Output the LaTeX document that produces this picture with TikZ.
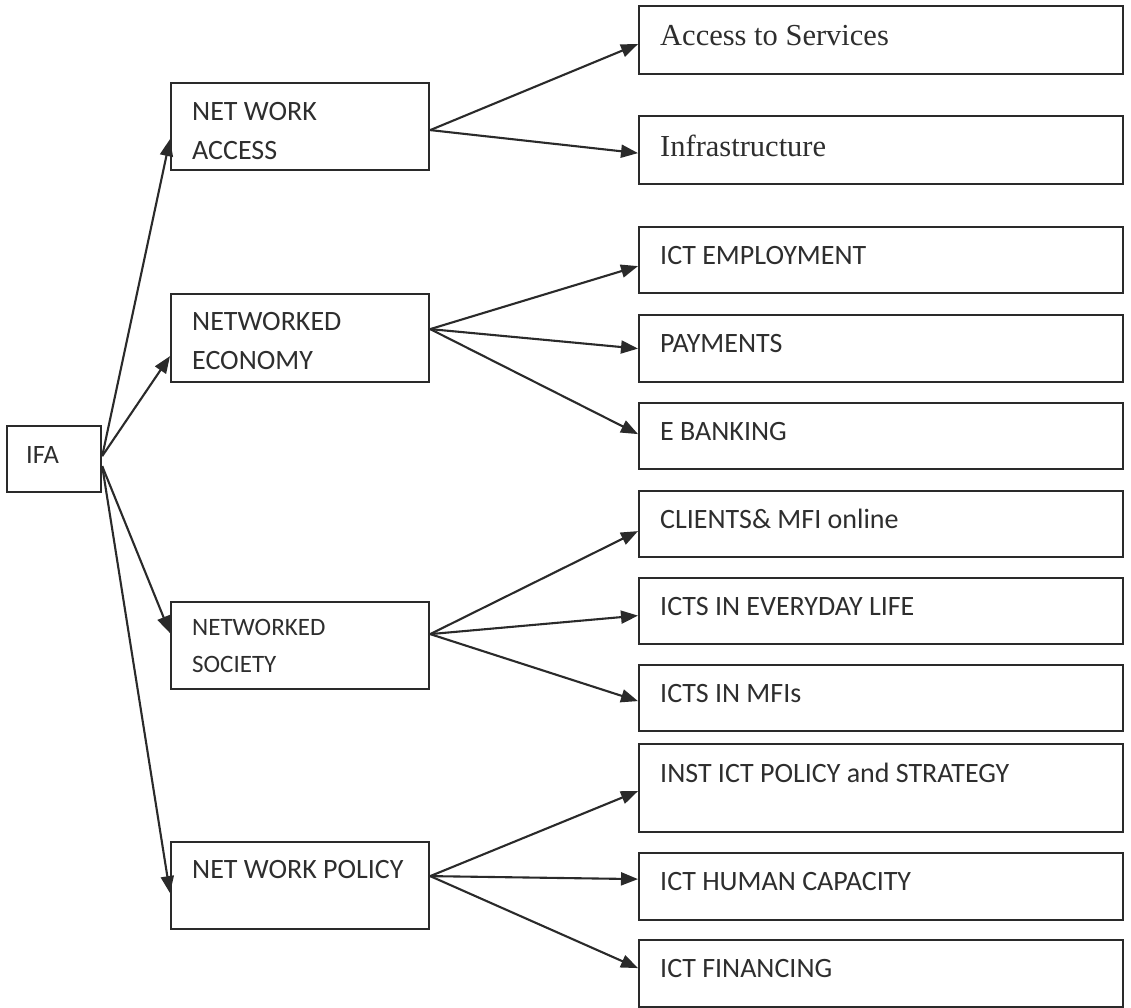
\documentclass[tikz,border=0pt]{standalone}
\usepackage{fontspec}
\setmainfont{Carlito}
\newfontfamily\serifface{Liberation Serif}
\usetikzlibrary{arrows.meta,calc}
\definecolor{ink}{HTML}{2A2A2A}
\definecolor{txtink}{HTML}{2E2E2E}
\begin{document}
\begin{tikzpicture}[x=1pt,y=-1pt,
  box/.style={draw=ink,line width=2.2pt,rectangle,inner sep=0pt,anchor=north west},
  wide/.style={box,minimum width=484pt},
  mid/.style={box,minimum width=258pt},
  txt/.style={anchor=base west,inner sep=0pt,text=txtink,font=\fontsize{28}{39}\selectfont},
  smalltxt/.style={txt,font=\fontsize{25}{37}\selectfont},
  sertxt/.style={txt,font=\serifface\fontsize{30.5}{36}\selectfont},
  conn/.style={draw=ink,line width=2.1pt,-{Triangle[length=17pt,width=13pt]}}]
\useasboundingbox (0,0) rectangle (1131,1007);
\fill[white] (0,0) rectangle (1131,1007);

% root
\node[box,minimum width=94pt,minimum height=66pt] (ifa) at (6,425) {};
\node[txt,font=\fontsize{26.5}{32}\selectfont] at ($(ifa.north west)+(20,38)$) {IFA};

% first level
\node[mid,minimum height=87pt] (acc) at (170,82) {};
\node[mid,minimum height=88pt] (eco) at (170,293) {};
\node[mid,minimum height=87pt] (soc) at (170,601) {};
\node[mid,minimum height=87pt] (pol) at (170,841) {};
\node[txt] at ($(acc.north west)+(22,38)$) {\begin{tabular}[t]{@{}l@{}}NET WORK\\ACCESS\end{tabular}};
\node[txt] at ($(eco.north west)+(22,37)$) {\begin{tabular}[t]{@{}l@{}}NETWORKED\\ECONOMY\end{tabular}};
\node[smalltxt] at ($(soc.north west)+(22,34)$) {\begin{tabular}[t]{@{}l@{}}NETWORKED\\SOCIETY\end{tabular}};
\node[txt] at ($(pol.north west)+(22,37)$) {NET WORK POLICY};

% second level
\node[wide,minimum height=68pt] (as)  at (638,5)   {};
\node[wide,minimum height=68pt] (inf) at (638,115) {};
\node[wide,minimum height=66pt] (emp) at (638,226) {};
\node[wide,minimum height=67pt] (pay) at (638,314) {};
\node[wide,minimum height=66pt] (ebk) at (638,402) {};
\node[wide,minimum height=66pt] (cli) at (638,490) {};
\node[wide,minimum height=66pt] (evd) at (638,577) {};
\node[wide,minimum height=66pt] (mfi) at (638,664) {};
\node[wide,minimum height=88pt] (ins) at (638,743) {};
\node[wide,minimum height=67pt] (hum) at (638,852) {};
\node[wide,minimum height=67pt] (fin) at (638,939) {};

\node[sertxt] at ($(as.north west)+(22,40)$)  {Access to Services};
\node[sertxt] at ($(inf.north west)+(22,41)$) {Infrastructure};
\node[txt] at ($(emp.north west)+(22,38)$) {ICT EMPLOYMENT};
\node[txt] at ($(pay.north west)+(22,38)$) {PAYMENTS};
\node[txt] at ($(ebk.north west)+(22,38)$) {E BANKING};
\node[txt] at ($(cli.north west)+(22,38)$) {CLIENTS\& MFI online};
\node[txt] at ($(evd.north west)+(22,38)$) {ICTS IN EVERYDAY LIFE};
\node[txt] at ($(mfi.north west)+(22,38)$) {ICTS IN MFIs};
\node[txt] at ($(ins.north west)+(22,39)$) {INST ICT POLICY and STRATEGY};
\node[txt] at ($(hum.north west)+(22,38)$) {ICT HUMAN CAPACITY};
\node[txt] at ($(fin.north west)+(22,38)$) {ICT FINANCING};

% root to first level
\draw[conn] ([yshift=3pt]ifa.east) -- ([yshift=-12.5pt]acc.west);
\draw[conn] ([yshift=3pt]ifa.east) -- ([yshift=-18pt]eco.west);
\draw[conn] ([yshift=-7pt]ifa.east) -- ([yshift=12.5pt]soc.west);
\draw[conn] ([yshift=-7pt]ifa.east) -- ([yshift=-7.5pt]pol.west);

% first level to second level
\draw[conn] ([yshift=-3.5pt]acc.east) -- ([yshift=-4pt]as.west);
\draw[conn] ([yshift=-3.5pt]acc.east) -- ([yshift=-3pt]inf.west);

\draw[conn] ([yshift=9pt]eco.east) -- ([yshift=-6pt]emp.west);
\draw[conn] ([yshift=9pt]eco.east) -- (pay.west);
\draw[conn] ([yshift=9pt]eco.east) -- ([yshift=2pt]ebk.west);

\draw[conn] ([yshift=11.5pt]soc.east) -- ([yshift=-7pt]cli.west);
\draw[conn] ([yshift=11.5pt]soc.east) -- ([yshift=-4.5pt]evd.west);
\draw[conn] ([yshift=11.5pt]soc.east) -- ([yshift=-3pt]mfi.west);

\draw[conn] ([yshift=9.5pt]pol.east) -- ([yshift=-3pt]ins.west);
\draw[conn] ([yshift=9.5pt]pol.east) -- ([yshift=7.5pt]hum.west);
\draw[conn] ([yshift=9.5pt]pol.east) -- ([yshift=5.5pt]fin.west);
\end{tikzpicture}
\end{document}
